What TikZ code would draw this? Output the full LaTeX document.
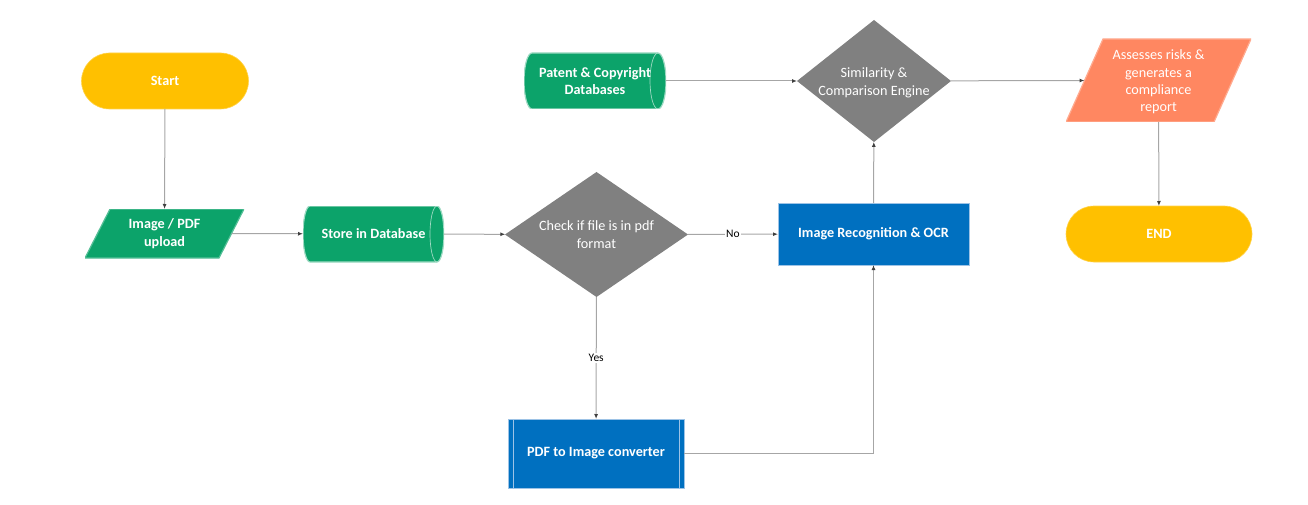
\documentclass[tikz,border=0pt]{standalone}
\usepackage{fontspec}
\setmainfont{Carlito}
\usetikzlibrary{shapes.geometric,shapes.misc,arrows.meta}
\definecolor{cyel}{HTML}{FFC000}
\definecolor{cgrn}{HTML}{0CA36A}
\definecolor{cgry}{HTML}{808080}
\definecolor{cblu}{HTML}{0070C0}
\definecolor{corg}{HTML}{FF8761}
\definecolor{cline}{HTML}{A6A6A6}
\definecolor{cedge}{HTML}{9DC3E6}
\begin{document}
\begin{tikzpicture}[x=1pt,y=-1pt,
  txt/.style={text=white, font=\fontsize{14.2}{17.6}\selectfont, align=center},
  btxt/.style={text=white, font=\fontsize{14.2}{17.6}\selectfont\bfseries, align=center},
  base/.style={inner sep=0, outer sep=0},
  term/.style={base, btxt, rounded rectangle, fill=cyel, draw=cyel!70!white, line width=0.6},
  para/.style 2 args={base, rectangle, path picture={
     \filldraw[fill=#1, draw=#1!70!white, line width=1.2]
       ([xshift=#2]path picture bounding box.north west) -- (path picture bounding box.north east)
       -- ([xshift=-#2]path picture bounding box.south east) -- (path picture bounding box.south west) -- cycle;}},
  dbase/.style 2 args={base, btxt, rectangle, path picture={
     \filldraw[fill=cgrn, draw=white!60!cgrn, line width=1.2]
       ([xshift=#1]path picture bounding box.north west) -- ([xshift=-#1]path picture bounding box.north east)
       arc[start angle=90, end angle=-90, x radius=#1pt, y radius=#2pt]
       -- ([xshift=#1]path picture bounding box.south west)
       arc[start angle=270, end angle=90, x radius=#1pt, y radius=#2pt] -- cycle;
     \draw[white!60!cgrn, line width=0.7] ([xshift=-#1]path picture bounding box.north east)
       arc[start angle=90, end angle=270, x radius=#1pt, y radius=#2pt];}},
  dec/.style={base, txt, diamond, fill=cgry},
  proc/.style={base, btxt, rectangle, fill=cblu, draw=cedge, line width=0.7},
  conn/.style={draw=cline, line width=1, -{Latex[length=5,width=4,color=black!75]}},
  elbl/.style={fill=white, inner sep=1, text=black, font=\fontsize{11.5}{13}\selectfont}
]
\useasboundingbox (0,0) rectangle (1308,505);

\node[term, minimum width=167, minimum height=56] (start) at (165,81) {Start};
\node[para={cgrn}{25}, btxt, minimum width=159, minimum height=49] (upload) at (164.5,233.5) {Image / PDF\\upload};
\node[dbase={7}{28}, minimum width=141, minimum height=56] (store) at (373.5,234) {Store in Database};
\node[dec, minimum width=183, minimum height=125, label={[txt]center:Check if file is in pdf\\format}] (check) at (596.5,234.5) {};
\node[proc, minimum width=191, minimum height=62] (imgrec) at (873.5,234) {Image Recognition \& OCR};
\node[proc, minimum width=176, minimum height=69] (pdf) at (596,453.5) {PDF to Image converter};
\draw[cedge, line width=0.7] ([xshift=5]pdf.north west) -- ([xshift=5]pdf.south west)
  ([xshift=-5]pdf.north east) -- ([xshift=-5]pdf.south east);
\node[dbase={8}{28}, minimum width=142, minimum height=56] (patent) at (595,81) {Patent \& Copyright\\Databases};
\node[dec, minimum width=154, minimum height=122, label={[txt, yshift=-1.5]center:Similarity \&\\Comparison Engine}] (sim) at (874,81) {};
\node[para={corg}{37}, minimum width=185, minimum height=83] (assess) at (1158.5,80.5) {};
\node[txt, font=\fontsize{14.2}{17.3}\selectfont, inner sep=0] (assesstxt) at (1158.5,82) {Assesses risks \&\\generates a\\compliance\\report};
\node[term, minimum width=186, minimum height=56] (end) at (1159,234) {END};

\draw[conn] (start) -- (upload);
\draw[conn] ([xshift=-12.5]upload.east) -- (store);
\draw[conn] (store) -- (check);
\draw[conn] (check) -- node[elbl]{No} (imgrec);
\draw[conn] (check) -- node[elbl]{Yes} (pdf);
\draw[conn] (pdf.east) -| (imgrec.south);
\draw[conn] (imgrec) -- (sim);
\draw[conn] (patent) -- (sim);
\draw[conn] (sim) -- ([xshift=18.5]assess.west);
\draw[conn] (assess) -- (end);
\end{tikzpicture}
\end{document}
